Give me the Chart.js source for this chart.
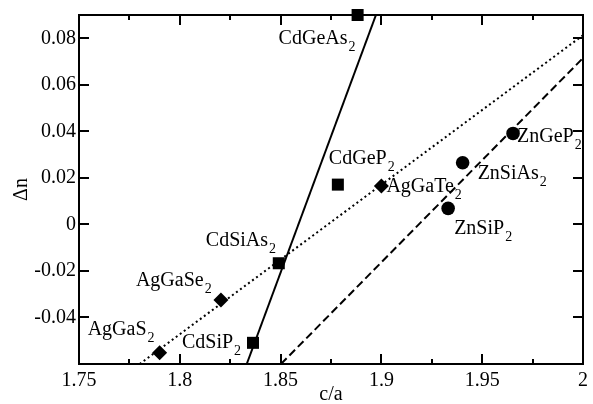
<!DOCTYPE html>
<html>
<head>
<meta charset="utf-8">
<script src="https://cdn.jsdelivr.net/npm/chart.js@4/dist/chart.umd.min.js"></script>
<style>
  html, body { margin: 0; padding: 0; background: #fff; }
  #wrap { width: 593px; height: 404px; }
</style>
</head>
<body>
<div id="wrap"><canvas id="c" width="593" height="404"></canvas></div>
<script>
// ---- data ----
const agNames = ["AgGaS", "AgGaSe", "AgGaTe"];
const agX = [1.790, 1.8204, 1.900];
const agY = [-0.0552, -0.0325, 0.0165];

const cdNames = ["CdSiP", "CdSiAs", "CdGeP", "CdGeAs"];
const cdX = [1.8363, 1.8491, 1.8784, 1.8882];
const cdY = [-0.0509, -0.0167, 0.0171, 0.0900];

const znNames = ["ZnSiP", "ZnSiAs", "ZnGeP"];
const znX = [1.9331, 1.9403, 1.9653];
const znY = [0.0069, 0.0265, 0.0391];

const solidX = [1.8332, 1.8973];
const solidY = [-0.06, 0.09];
const dottedX = [1.7801, 2.0];
const dottedY = [-0.06, 0.0813];
const dashedX = [1.8502, 2.0];
const dashedY = [-0.06, 0.0715];

const xTickValues = [1.75, 1.775, 1.8, 1.825, 1.85, 1.875, 1.9, 1.925, 1.95, 1.975, 2.0];
const xTickLabels = ["1.75", "", "1.8", "", "1.85", "", "1.9", "", "1.95", "", "2"];
const yTickValues = [-0.04, -0.02, 0, 0.02, 0.04, 0.06, 0.08];
const yTickLabels = ["-0.04", "-0.02", "0", "0.02", "0.04", "0.06", "0.08"];

// label offsets in pixels (text left / baseline relative to marker)
const labelOffsets = {
  "AgGaS": [-72, -18], "AgGaSe": [-85, -14], "AgGaTe": [5, 6],
  "CdSiP": [-71, 5], "CdSiAs": [-73, -17], "CdGeP": [-9, -21], "CdGeAs": [-79, 29],
  "ZnSiP": [6, 26], "ZnSiAs": [15, 16], "ZnGeP": [4, 9]
};

const FONT = "'Liberation Serif', 'Times New Roman', serif";

function pts(xs, ys) { return xs.map((x, i) => ({ x: x, y: ys[i] })); }

const frame = {
  id: 'frame',
  afterDatasetsDraw(chart) {
    const ctx = chart.ctx;
    const a = chart.chartArea;
    const xs = chart.scales.x, ys = chart.scales.y;
    ctx.save();
    ctx.strokeStyle = '#000';
    ctx.lineWidth = 2;
    ctx.beginPath();
    xs.ticks.forEach(t => {
      const px = Math.round(xs.getPixelForValue(t.value));
      const len = t.label === '' ? 5 : 10;
      ctx.moveTo(px, a.bottom); ctx.lineTo(px, a.bottom - len);
      ctx.moveTo(px, a.top); ctx.lineTo(px, a.top + len);
    });
    ys.ticks.forEach(t => {
      const py = Math.round(ys.getPixelForValue(t.value));
      ctx.moveTo(a.left, py); ctx.lineTo(a.left + 10, py);
      ctx.moveTo(a.right, py); ctx.lineTo(a.right - 10, py);
    });
    ctx.stroke();
    ctx.strokeRect(a.left, a.top, a.right - a.left, a.bottom - a.top);
    ctx.restore();
  },
  afterDraw(chart) {
    const ctx = chart.ctx;
    ctx.save();
    ctx.fillStyle = '#000';
    ctx.textBaseline = 'alphabetic';
    ctx.textAlign = 'left';
    chart.data.datasets.forEach((ds, di) => {
      if (!ds.names) return;
      const meta = chart.getDatasetMeta(di);
      meta.data.forEach((el, i) => {
        const name = ds.names[i];
        const off = labelOffsets[name] || [5, 5];
        const x = el.x + off[0], y = el.y + off[1];
        ctx.font = '20px ' + FONT;
        ctx.fillText(name, x, y);
        const w = ctx.measureText(name).width;
        ctx.font = '14px ' + FONT;
        ctx.fillText('2', x + w + 1, y + 7);
      });
    });
    ctx.restore();
  }
};

new Chart(document.getElementById('c'), {
  type: 'scatter',
  data: {
    datasets: [
      { data: pts(solidX, solidY), showLine: true, borderColor: '#000', borderWidth: 2, pointRadius: 0, fill: false },
      { data: pts(dottedX, dottedY), showLine: true, borderColor: '#000', borderWidth: 2, borderDash: [2, 3], pointRadius: 0, fill: false },
      { data: pts(dashedX, dashedY), showLine: true, borderColor: '#000', borderWidth: 2, borderDash: [8, 4], pointRadius: 0, fill: false },
      { data: pts(agX, agY), names: agNames, pointStyle: 'rectRot', pointRadius: 7.5, backgroundColor: '#000', borderColor: '#000', borderWidth: 0, clip: false },
      { data: pts(cdX, cdY), names: cdNames, pointStyle: 'rect', pointRadius: 8.5, backgroundColor: '#000', borderColor: '#000', borderWidth: 0, clip: false },
      { data: pts(znX, znY), names: znNames, pointStyle: 'circle', pointRadius: 6.8, backgroundColor: '#000', borderColor: '#000', borderWidth: 0, clip: false }
    ]
  },
  options: {
    responsive: false,
    animation: false,
    events: [],
    layout: { padding: { top: 10, right: 7, left: 0, bottom: 0 } },
    plugins: { legend: { display: false }, tooltip: { enabled: false } },
    scales: {
      x: {
        type: 'linear', min: 1.75, max: 2.0,
        afterBuildTicks: s => { s.ticks = xTickValues.map(v => ({ value: v })); },
        afterFit: s => { s.height = 40; },
        grid: { display: false, drawTicks: false },
        border: { display: false },
        ticks: {
          color: '#000', padding: 5, maxRotation: 0, autoSkip: false,
          font: { family: FONT, size: 20 },
          callback: (v, i) => xTickLabels[i]
        },
        title: { display: true, text: 'c/a', color: '#000', font: { family: FONT, size: 20 }, padding: { top: 0, bottom: -3 } }
      },
      y: {
        type: 'linear', min: -0.06, max: 0.09,
        afterBuildTicks: s => { s.ticks = yTickValues.map(v => ({ value: v })); },
        afterFit: s => { s.width = 79; },
        grid: { display: false, drawTicks: false },
        border: { display: false },
        ticks: {
          color: '#000', padding: 3, autoSkip: false,
          font: { family: FONT, size: 20 },
          callback: (v, i) => yTickLabels[i]
        },
        title: { display: true, text: 'Δn', color: '#000', font: { family: FONT, size: 20 }, padding: { top: 10, bottom: 0 } }
      }
    }
  },
  plugins: [frame]
});
</script>
</body>
</html>
